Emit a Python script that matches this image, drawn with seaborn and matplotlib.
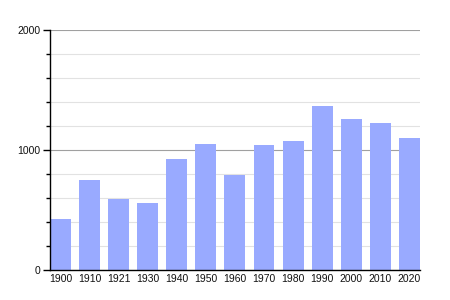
import matplotlib
matplotlib.use("Agg")
import matplotlib.pyplot as plt
import seaborn as sns
import pandas as pd
from matplotlib.ticker import MultipleLocator

years = ["1900", "1910", "1921", "1930", "1940", "1950", "1960", "1970", "1980", "1990", "2000", "2010", "2020"]
population = [425, 750, 592, 558, 925, 1050, 792, 1039, 1075, 1367, 1258, 1222, 1100]

df = pd.DataFrame({"year": years, "pop": population})

sns.set_style("white")
plt.rcParams["font.family"] = ["Liberation Sans", "DejaVu Sans"]

fig = plt.figure(figsize=(4.5, 3), dpi=100)
ax = fig.add_axes([0.111, 0.1, 0.822, 0.8])

sns.barplot(data=df, x="year", y="pop", color="#99aaff", saturation=1, width=0.72,
            edgecolor="none", linewidth=0, ax=ax, zorder=3)

ax.set_ylim(0, 2000)
ax.set_xlim(-0.36, len(years) - 1 + 0.36)
ax.yaxis.set_major_locator(MultipleLocator(1000))
ax.yaxis.set_minor_locator(MultipleLocator(200))
ax.grid(which="minor", axis="y", color="#e2e2e2", linewidth=0.8, zorder=0)
ax.grid(which="major", axis="y", color="#a0a0a0", linewidth=0.8, zorder=1)
ax.set_axisbelow(True)

for s in ["top", "right"]:
    ax.spines[s].set_visible(False)
for s in ["left", "bottom"]:
    ax.spines[s].set_color("black")
    ax.spines[s].set_linewidth(1)
    ax.spines[s].set_zorder(5)

ax.tick_params(axis="y", which="major", length=5, width=1, color="black", labelcolor="#111111",
               labelsize=7.5, pad=2, left=True)
ax.tick_params(axis="y", which="minor", length=3, width=1, color="black", left=True)
ax.tick_params(axis="x", length=0, labelsize=7.5, labelcolor="#111111", pad=3)
ax.set_xlabel("")
ax.set_ylabel("")

fig.savefig("out.png", dpi=100)
